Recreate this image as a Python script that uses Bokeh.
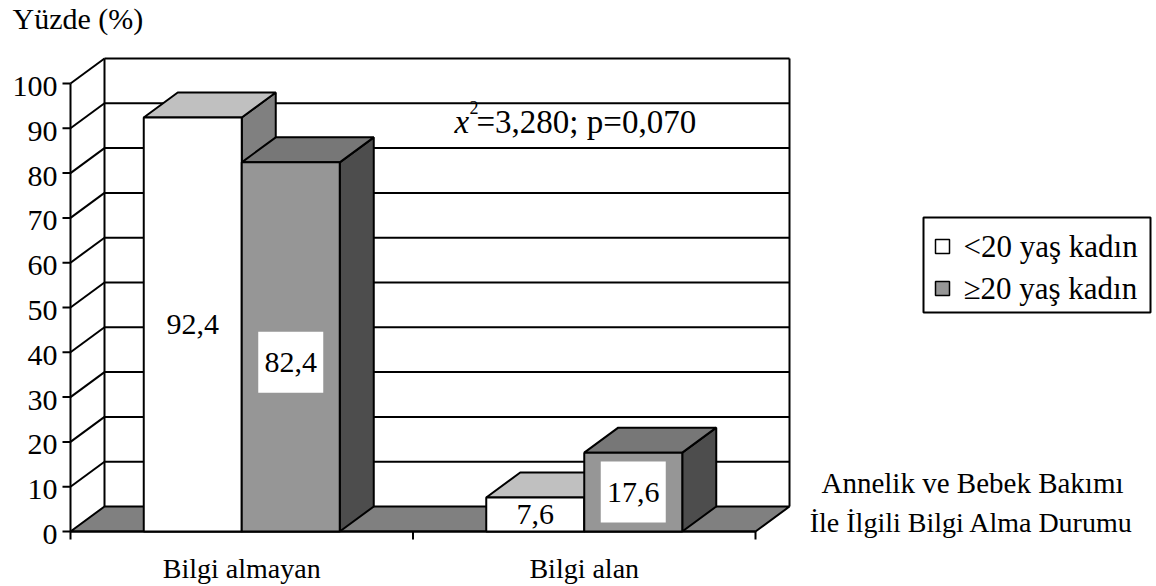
from bokeh.plotting import figure
from bokeh.models import Range1d, ColumnDataSource
from bokeh.core.properties import value
from bokeh.embed import file_html
from bokeh.resources import INLINE

# --- data -------------------------------------------------------------
categories = ["Bilgi almayan", "Bilgi alan"]
series_names = ["<20 yaş kadın", "≥20 yaş kadın"]
under20 = [92.4, 7.6]
over20 = [82.4, 17.6]
y_ticks = [0, 10, 20, 30, 40, 50, 60, 70, 80, 90, 100]
stat_text = "=3,280; p=0,070"
axis_title = "Yüzde (%)"
chart_title = ["Annelik ve Bebek Bakımı", "İle İlgili Bilgi Alma Durumu"]

# --- layout / style ---------------------------------------------------
FONT = "'Liberation Serif', 'Times New Roman', serif"
W, H = 1156, 586
ORIG_X, ORIG_Y = 70, 531   # canvas position of the (0, 0) corner
PX_Y = 4.48                # pixels per percent
PX_X = 342.5               # pixels per category slot
DX = 34 / PX_X             # depth offset (x, data units)
DY = 25 / PX_Y             # depth offset (y, data units)
BAR_W = 98 / PX_X
TICK_X = 8 / PX_X
TICK_Y = 8 / PX_Y
LW = 2
FRONT = ["white", "#969696"]
TOP = ["#c0c0c0", "#777777"]
SIDE = ["#808080", "#4d4d4d"]


def cx(px):
    """canvas x (pixels) -> data x"""
    return (px - ORIG_X) / PX_X


def cy(py):
    """canvas y (pixels, from top) -> data y"""
    return (ORIG_Y - py) / PX_Y


n = len(categories)
y_top = max(y_ticks)

p = figure(width=W, height=H,
           x_range=Range1d(cx(0), cx(W)), y_range=Range1d(cy(H), cy(0)),
           x_axis_type=None, y_axis_type=None,
           output_backend="svg", toolbar_location=None, title=None,
           min_border=0, outline_line_color=None,
           background_fill_color="white", border_fill_color="white")
p.grid.visible = False


def label(x, y, text, size, style="normal", align="left"):
    p.text(x=[x], y=[y], text=[text], text_font=value(FONT),
           text_font_size=size, text_font_style=style, text_align=align,
           text_baseline="middle", text_color="black")


# --- chart box: back wall, side wall, floor ---------------------------
inner = y_ticks[1:]
p.segment(x0=[DX] * len(inner), y0=[t + DY for t in inner],
          x1=[n + DX] * len(inner), y1=[t + DY for t in inner],
          line_color="black", line_width=LW)
p.segment(x0=[DX, n + DX], y0=[DY, DY], x1=[DX, n + DX], y1=[y_top + DY] * 2,
          line_color="black", line_width=LW)
p.segment(x0=[0] * len(inner), y0=inner,
          x1=[DX] * len(inner), y1=[t + DY for t in inner],
          line_color="black", line_width=LW)
p.patch([0, n, n + DX, DX], [0, 0, DY, DY], fill_color="#808080",
        line_color="black", line_width=LW)

# --- axes -------------------------------------------------------------
centers = [i + 0.5 for i in range(n)]
p.segment(x0=[0, 0], y0=[0, 0], x1=[0, n], y1=[y_top, 0],
          line_color="black", line_width=LW)
p.segment(x0=[-TICK_X] * len(y_ticks), y0=y_ticks, x1=[0] * len(y_ticks),
          y1=y_ticks, line_color="black", line_width=LW)
p.segment(x0=list(range(n + 1)), y0=[0] * (n + 1), x1=list(range(n + 1)),
          y1=[-TICK_Y] * (n + 1), line_color="black", line_width=LW)
p.text(x=[-13 / PX_X] * len(y_ticks), y=y_ticks, text=[str(t) for t in y_ticks],
       text_font=value(FONT), text_font_size="30px", text_align="right",
       text_baseline="middle", y_offset=3, text_color="black")
p.text(x=centers, y=[-37 / PX_Y] * n, text=categories,
       text_font=value(FONT), text_font_size="28px", text_align="center",
       text_baseline="middle", text_color="black")


# --- 3D columns -------------------------------------------------------
def column_series(vals, lefts, k):
    rights = [l + BAR_W for l in lefts]
    side_xs = [[r, r + DX, r + DX, r] for r in rights]
    side_ys = [[0, DY, v + DY, v] for v in vals]
    top_xs = [[l, r, r + DX, l + DX] for l, r in zip(lefts, rights)]
    top_ys = [[v, v, v + DY, v + DY] for v in vals]
    p.patches(side_xs, side_ys, fill_color=SIDE[k], line_color="black", line_width=LW)
    p.patches(top_xs, top_ys, fill_color=TOP[k], line_color="black", line_width=LW)
    p.quad(left=lefts, right=rights, bottom=0, top=vals,
           fill_color=FRONT[k], line_color="black", line_width=LW)


column_series(under20, [c - BAR_W for c in centers], 0)
column_series(over20, centers, 1)


# --- value labels -----------------------------------------------------
def fmt(v):
    return f"{v:.1f}".replace(".", ",")


label_shift = [[0, 0], [-3.4, 0]]   # vertical nudge per series (percent units)
box_src = ColumnDataSource(dict(
    x=[c + BAR_W / 2 for c in centers],
    y=[v / 2 + s for v, s in zip(over20, label_shift[1])]))
p.rect(x="x", y="y", width=65, height=61, width_units="screen",
       height_units="screen", source=box_src, fill_color="white", line_color=None)

lab_x, lab_y, lab_t = [], [], []
for k, (vals, sign) in enumerate([(under20, -1), (over20, 1)]):
    for c, v, s in zip(centers, vals, label_shift[k]):
        lab_x.append(c + sign * BAR_W / 2)
        lab_y.append(v / 2 + s)
        lab_t.append(fmt(v))
p.text(x=lab_x, y=lab_y, text=lab_t, text_font=value(FONT),
       text_font_size="30px", text_align="center", text_baseline="middle",
       text_color="black")

# --- legend -----------------------------------------------------------
p.quad(left=[cx(923)], right=[cx(1150)], top=[cy(217)], bottom=[cy(312)],
       fill_color="white", line_color="black", line_width=LW)
row_y = [246, 288]
p.quad(left=[cx(935)] * 2, right=[cx(949)] * 2,
       top=[cy(y - 7) for y in row_y], bottom=[cy(y + 7) for y in row_y],
       fill_color=FRONT, line_color="black", line_width=1.5)
p.text(x=[cx(963)] * 2, y=[cy(y) for y in row_y], text=series_names,
       text_font=value(FONT), text_font_size="31px", text_align="left",
       text_baseline="middle", text_color="black")

# --- free text --------------------------------------------------------
label(cx(12), cy(18), axis_title, "30px")
label(cx(454), cy(121), "x", "33px", style="italic")
label(cx(469), cy(107), "2", "18px")
label(cx(476), cy(121), stat_text, "33px")
label(cx(972), cy(482), chart_title[0], "29px", align="center")
label(cx(971), cy(522), chart_title[1], "28px", align="center")

open("out.html", "w").write(file_html(p, INLINE))
